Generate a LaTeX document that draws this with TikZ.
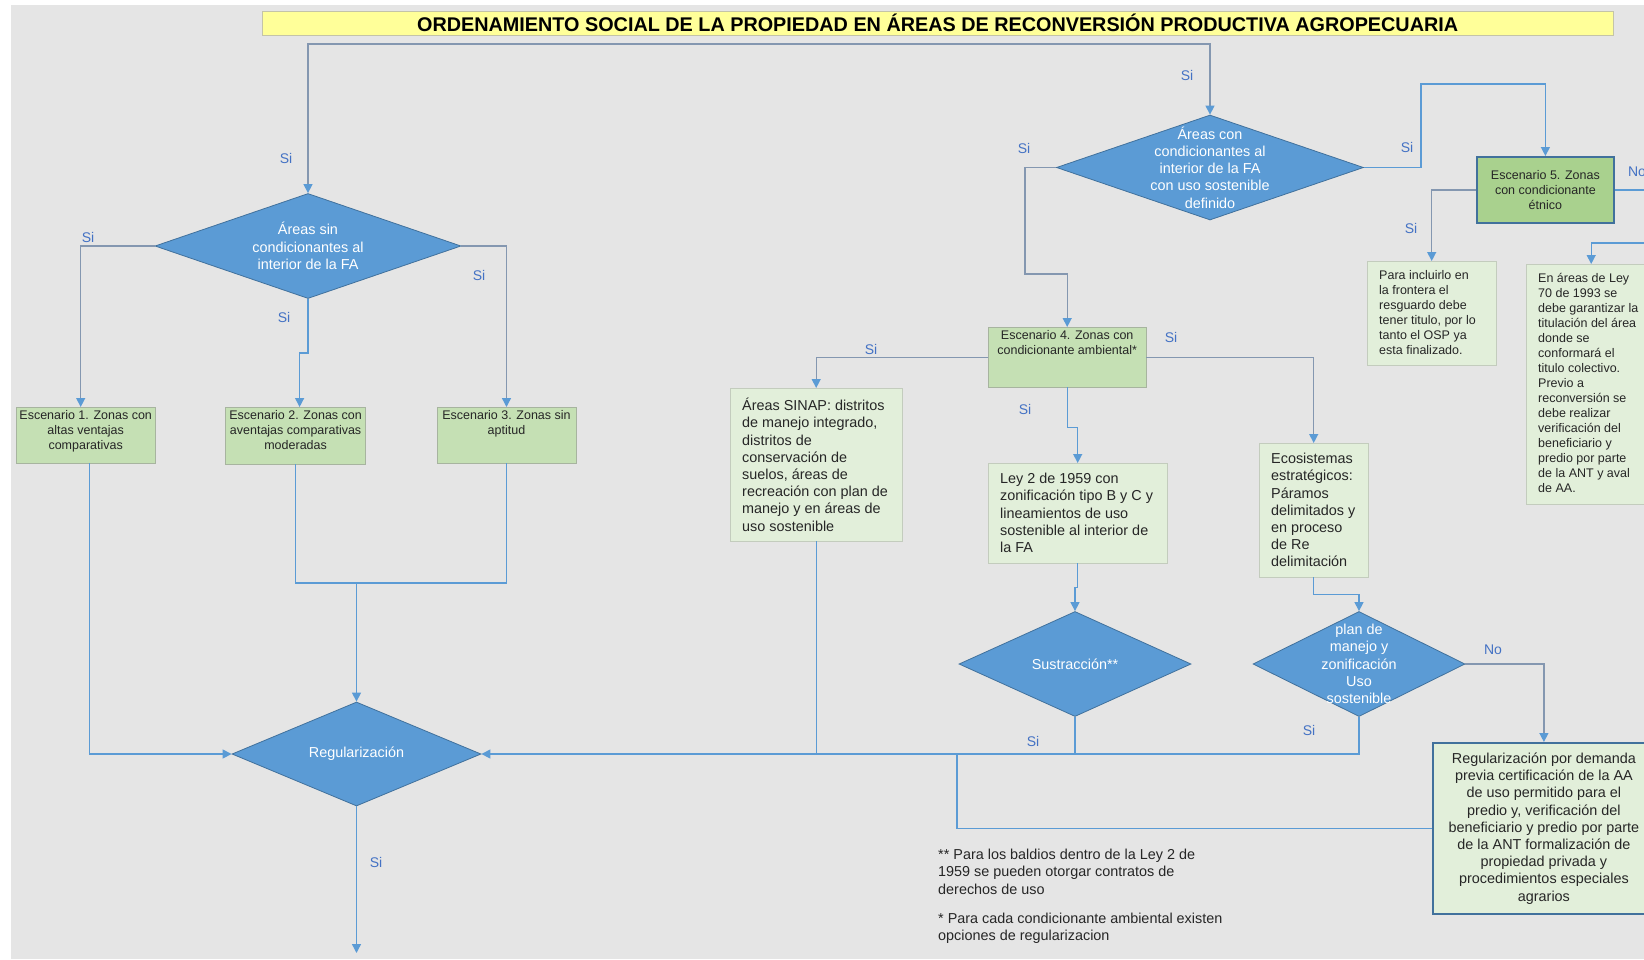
\documentclass[tikz,border=0pt]{standalone}
\usepackage{fontspec}
\setmainfont{Liberation Sans}
\usetikzlibrary{positioning,shapes.geometric,arrows.meta}

\definecolor{bggray}{HTML}{E5E5E5}
\definecolor{titleyellow}{HTML}{FFFF99}
\definecolor{titleline}{HTML}{C4C4A8}
\definecolor{dfill}{HTML}{5B9BD5}
\definecolor{dline}{HTML}{41719C}
\definecolor{scenfill}{HTML}{C5E0B4}
\definecolor{scenline}{HTML}{A7B49F}
\definecolor{efill}{HTML}{A9D18E}
\definecolor{notefill}{HTML}{E2EFDA}
\definecolor{noteline}{HTML}{C3CCBD}
\definecolor{flowblue}{HTML}{5B9BD5}
\definecolor{flowgray}{HTML}{8497B0}
\definecolor{lblue}{HTML}{4472C4}
\definecolor{txt}{HTML}{262626}

\newcommand{\scentext}[3]{\parbox[c][#2][t]{#1}{\centering #3}}
\newcommand{\notetext}[3]{\parbox[c][#2][t]{#1}{\raggedright\leftskip=12pt\relax #3}}

\begin{document}
\begin{tikzpicture}[x=1pt,y=-1pt,
				decision/.style={diamond,draw=dline,fill=dfill,inner sep=0pt,line width=0.8pt},
				dtext/.style={text=white,align=center,inner sep=0pt,font=\fontsize{14.4}{17.3}\selectfont},
				scen/.style={draw=scenline,fill=scenfill,inner xsep=0pt,inner ysep=3pt,anchor=north west,text=txt,font=\fontsize{12.5}{15}\selectfont},
				note/.style={draw=noteline,fill=notefill,inner xsep=0pt,inner ysep=10pt,anchor=north west,text=txt,font=\fontsize{14.4}{17.2}\selectfont},
				notesm/.style={note,inner ysep=9pt,font=\fontsize{12.5}{15}\selectfont},
				lbl/.style={text=lblue,inner sep=0pt,font=\fontsize{14}{16}\selectfont},
				foot/.style={anchor=north west,align=left,inner sep=0pt,text=txt,font=\fontsize{14.4}{17.3}\selectfont},
				flow/.style={draw=flowblue,line width=1.3pt},
				flowg/.style={draw=flowgray,line width=1.3pt},
				>={Triangle[length=9pt,width=9pt,color=flowblue]}]
				\useasboundingbox (0,0) rectangle (1644,959);
				\clip (0,0) rectangle (1644,959);
				\fill[white] (0,0) rectangle (1644,959);
				\fill[bggray] (11,5) rectangle (1644,959);

				\node (title) [draw=titleline,fill=titleyellow,minimum width=1351pt,minimum height=24pt,inner sep=0pt,anchor=north west,font=\fontsize{19.8}{22}\selectfont\bfseries] at (262,11) {ORDENAMIENTO SOCIAL DE LA PROPIEDAD EN ÁREAS DE RECONVERSIÓN PRODUCTIVA AGROPECUARIA};

				\node (D1)  [decision,minimum width=306pt,minimum height=105pt] at (308,246) {};
				\node (D1t) [dtext] at (D1) {Áreas sin\\condicionantes al\\interior de la FA};
				\node (D2)  [decision,minimum width=307pt,minimum height=105pt] at (1210,167.5) {};
				\node (D2t) [dtext] at (D2) {Áreas con\\condicionantes al\\interior de la FA\\con uso sostenible\\definido};
				\node (D3)  [decision,minimum width=249pt,minimum height=104pt] at (356.5,754) {};
				\node (D3t) [dtext] at (D3) {Regularización};
				\node (D4)  [decision,minimum width=232pt,minimum height=105pt] at (1075,664) {};
				\node (D4t) [dtext] at (D4) {Sustracción**};
				\node (D5)  [decision,minimum width=212pt,minimum height=105pt] at (1359,664) {};
				\node (D5t) [dtext] at (D5) {plan de\\manejo y\\zonificación\\Uso\\sostenible};

				\node (E1) [scen] at (16,407) {\scentext{139pt}{50pt}{Escenario 1. Zonas con\\altas ventajas\\comparativas}};
				\node (E2) [scen,right=70pt of E1.north east,anchor=north west] {\scentext{140pt}{51pt}{Escenario 2. Zonas con\\aventajas comparativas\\moderadas}};
				\node (E3) [scen,right=71pt of E2.north east,anchor=north west] {\scentext{139pt}{50pt}{Escenario 3. Zonas sin\\aptitud}};
				\node (E4) [scen] at (988,327) {\scentext{158pt}{54pt}{Escenario 4. Zonas con\\condicionante ambiental*}};
				\node (E5) [draw=dline,line width=1.8pt,fill=efill,minimum width=137pt,minimum height=66pt,align=center,anchor=north west,text=txt,font=\fontsize{12.5}{15}\selectfont] at (1476,156) {Escenario 5. Zonas\\con condicionante\\étnico};

				\node (SINAP) [note] at (730,388) {\notetext{172pt}{133pt}{Áreas SINAP: distritos\\de manejo  integrado,\\distritos de\\conservación de\\suelos, áreas de\\recreación con plan de\\manejo  y en áreas de\\uso sostenible}};
				\node (Ley2)  [note] at (988,463) {\notetext{179pt}{80pt}{Ley 2 de 1959 con\\zonificación tipo B y C y\\lineamientos  de uso\\sostenible  al interior de\\la FA}};
				\node (Ecos)  [note] at (1259,443) {\notetext{109pt}{114pt}{Ecosistemas\\estratégicos:\\Páramos\\delimitados  y\\en proceso\\de Re\\delimitación}};
				\node (Para)  [notesm] at (1367,261) {\notetext{129pt}{86pt}{Para incluirlo en\\la frontera el\\resguardo debe\\tener titulo, por lo\\tanto el OSP ya\\esta finalizado.}};
				\node (Ley70) [notesm] at (1526,264) {\notetext{130pt}{222pt}{En áreas de Ley\\70 de 1993 se\\debe garantizar la\\titulación del área\\donde  se\\conformará el\\titulo  colectivo.\\Previo a\\reconversión se\\debe realizar\\verificación del\\beneficiario y\\predio por parte\\de la ANT y aval\\de AA.}};
				\node (Reg)   [draw=dline,line width=1.8pt,fill=notefill,minimum width=222pt,minimum height=171pt,align=center,anchor=north west,text=txt,font=\fontsize{14.4}{17.2}\selectfont] at (1432,742) {Regularización  por demanda\\previa certificación de la AA\\de uso permitido para el\\predio y, verificación del\\beneficiario y predio por parte\\de la ANT formalización de\\propiedad privada y\\procedimientos  especiales\\agrarios};

				\node (fn1) [foot] at (938,849) {** Para los baldios dentro de la Ley 2 de\\1959 se pueden otorgar contratos de\\derechos de uso};
				\node (fn2) [foot] at (938,913) {* Para cada condicionante ambiental existen\\opciones de regularizacion};

				\coordinate (topbar)   at (760,44);
				\coordinate (merge)    at (356.5,583);
				\coordinate (fin)      at (356.5,953);
				\coordinate (split)    at (957,754);
				\coordinate (offright) at (1660,243);

				\draw[flowg,<->] (D1.north) |- (topbar) -| (D2.north);
				\draw[flowg,->] (D1.west) -| ([xshift=-5pt]E1.north);
				\draw[flow,->]  (D1.south) -- ++(0,54) -| ([xshift=4pt]E2.north);
				\draw[flowg,->] (D1.east) -| (E3.north);
				\draw[flow,->]  ([xshift=4pt]E1.south) |- (D3.west);
				\draw[flow]     (E2.south) |- (merge) -| (E3.south);
				\draw[flow,->]  (merge) -- (D3.north);
				\draw[flow,->]  (D3.south) -- (fin);

				\draw[flowg,->] (D2.west) -| ++(-31,106.5) -| (E4.north);
				\draw[flow,->]  (D2.east) -| ++(57,-83.5) -| (E5.north);
				\draw[flowg,->] (E5.west) -| (Para.north);
				\draw[flow,->]  (E5.east) -| (offright) -| (Ley70.north);
				\draw[flowg,->] (E4.west) -| (SINAP.north);
				\draw[flow,->]  (E4.south) -- ++(0,40) -| (Ley2.north);
				\draw[flowg,->] (E4.east) -| (Ecos.north);
				\draw[flow,->]  (Ley2.south) -- ++(0,24) -| (D4.north);
				\draw[flow,->]  (Ecos.south) -- ++(0,17) -| (D5.north);
				\draw[flowg,->] (D5.east) -| (Reg.north);

				\draw[flow,->]  (SINAP.south) |- (D3.east);
				\draw[flow]     (D5.south) |- (SINAP.south |- D3.east);
				\draw[flow]     (D4.south) -- (D4.south |- D3.east);
				\draw[flow]     (split) |- (Reg.west);

				\node (si1)  [lbl] at (286,158)  {Si};
				\node (si2)  [lbl] at (1187,75)  {Si};
				\node (si3)  [lbl] at (88,237)   {Si};
				\node (si4)  [lbl] at (284,317)  {Si};
				\node (si5)  [lbl] at (479,275)  {Si};
				\node (si6)  [lbl] at (376,862)  {Si};
				\node (si7)  [lbl] at (1024,148) {Si};
				\node (si8)  [lbl] at (1407,147) {Si};
				\node (si9)  [lbl] at (1411,228) {Si};
				\node (no1)  [lbl] at (1637,172) {No};
				\node (si10) [lbl] at (871,349)  {Si};
				\node (si11) [lbl] at (1025,409) {Si};
				\node (si12) [lbl] at (1171,337) {Si};
				\node (si13) [lbl] at (1033,741) {Si};
				\node (si14) [lbl] at (1309,730) {Si};
				\node (no2)  [lbl] at (1493,650) {No};
			\end{tikzpicture}
\end{document}
